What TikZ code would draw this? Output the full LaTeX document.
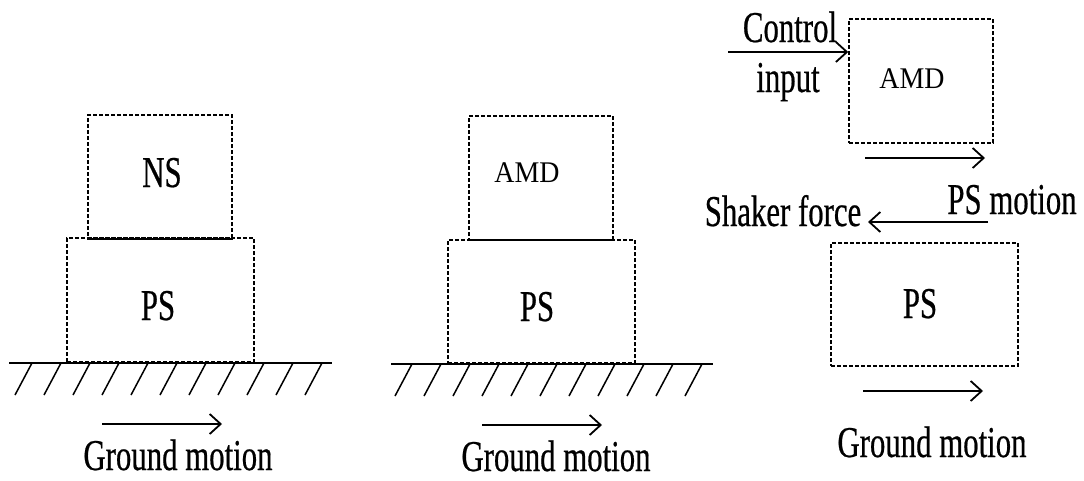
\documentclass[tikz,border=0pt]{standalone}
\usepackage{fontspec}
\usetikzlibrary{arrows.meta}
\newfontfamily\cf[FakeStretch=0.70,FakeBold=0.5]{Liberation Serif}
\newfontfamily\af[FakeStretch=0.93]{Liberation Serif}
\tikzset{
  box/.style={draw, dash pattern=on 4pt off 2pt, line width=1.5pt, rectangle, inner sep=0pt},
  lbl/.style={inner sep=0pt, anchor=base, font=\cf\fontsize{44}{44}\selectfont},
  albl/.style={inner sep=0pt, anchor=base, font=\af\fontsize{30}{30}\selectfont},
  arr/.style={line width=1.8pt, -{Straight Barb[length=11pt,width=20pt,line width=1.8pt]}},
  gnd/.style={line width=2pt},
  hatch/.style={line width=1.5pt}
}
\begin{document}
\begin{tikzpicture}[x=1pt,y=-1pt]
\useasboundingbox[fill=white] (0,0) rectangle (1084,480);

% ---------- Panel 1 ----------
\node[box, minimum width=187pt, minimum height=124pt] (ps1) at (160.5,300) {};
\node[box, minimum width=144pt, minimum height=123pt] (ns) at (160,176.5) {};
\draw[line width=1.8pt] (ns.south west) -- (ns.south east);
\node[lbl] (tns) at (162,187) {NS};
\node[lbl] (tps1) at (158,320) {PS};
\coordinate (g1a) at (9,363);
\coordinate (g1b) at (332,363);
\draw[gnd] (g1a) -- (g1b);
\foreach \k in {0,...,10} {
  \draw[hatch] (32+29*\k,363) -- (15+29*\k,395);
}
\coordinate (a1s) at (102,424);
\coordinate (a1e) at (222,424);
\draw[arr] (a1s) -- (a1e);
\node[lbl] (gm1) at (178,470) {Ground motion};

% ---------- Panel 2 ----------
\node[box, minimum width=187pt, minimum height=123pt] (ps2) at (541.5,301.5) {};
\node[box, minimum width=144pt, minimum height=124pt] (amd2) at (541,178) {};
\node[albl] (tamd2) at (527,182) {AMD};
\node[lbl] (tps2) at (537,321) {PS};
\coordinate (g2a) at (391,364);
\coordinate (g2b) at (713,364);
\draw[gnd] (g2a) -- (g2b);
\foreach \k in {0,...,10} {
  \draw[hatch] (412+29*\k,364) -- (395+29*\k,396);
}
\coordinate (a2s) at (482,425);
\coordinate (a2e) at (602,425);
\draw[arr] (a2s) -- (a2e);
\node[lbl] (gm2) at (556,471) {Ground motion};

% ---------- Panel 3 ----------
\node[box, minimum width=144pt, minimum height=124pt] (amd3) at (921,81) {};
\node[albl] (tamd3) at (912,88) {AMD};
\node[box, minimum width=187pt, minimum height=123pt] (ps3) at (924.5,304.5) {};
\node[lbl] (tps3) at (920,318) {PS};

\coordinate (ci) at (728,52);
\draw[arr] (ci) -- (ci -| amd3.west);
\node[lbl] (tcontrol) at (790,42) {Control};
\node[lbl] (tinput) at (788,92) {input};

\coordinate (pms) at (865,158);
\coordinate (pme) at (985,158);
\draw[arr] (pms) -- (pme);
\node[lbl] (tpsm) at (1012,214) {PS motion};

\coordinate (sfs) at (988,222);
\coordinate (sfe) at (868,222);
\draw[arr] (sfs) -- (sfe);
\node[lbl] (tsf) at (783,226) {Shaker force};

\coordinate (a3s) at (863,391);
\coordinate (a3e) at (983,391);
\draw[arr] (a3s) -- (a3e);
\node[lbl] (gm3) at (932,457) {Ground motion};
\end{tikzpicture}
\end{document}
